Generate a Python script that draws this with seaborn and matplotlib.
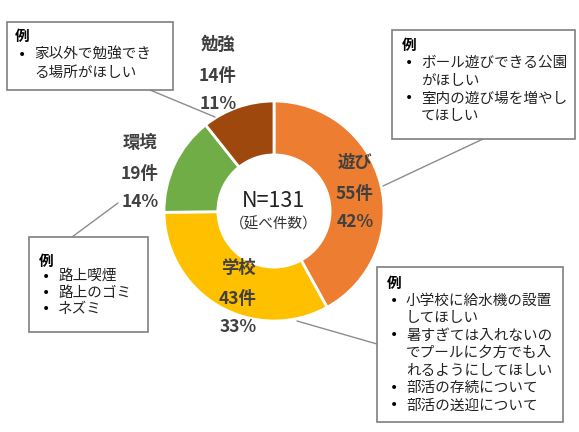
import matplotlib
matplotlib.use("Agg")
import matplotlib.pyplot as plt
import matplotlib.patches as patches
import seaborn as sns

sns.set_theme(style="white")
plt.rcParams['font.family'] = ['Noto Sans CJK JP', 'DejaVu Sans']

# data
categories = ['遊び', '学校', '環境', '勉強']
counts = [55, 43, 19, 14]
percents = ['42%', '33%', '14%', '11%']
total_label = 'N=131'
total_sub = '（延べ件数）'

examples_benkyo = ['家以外で勉強でき\nる場所がほしい']
examples_asobi = ['ボール遊びできる公園\nがほしい', '室内の遊び場を増やし\nてほしい']
examples_kankyo = ['路上喫煙', '路上のゴミ', 'ネズミ']
examples_gakko = ['小学校に給水機の設置\nしてほしい',
                  '暑すぎては入れないの\nでプールに夕方でも入\nれるようにしてほしい',
                  '部活の存続について', '部活の送迎について']

colors = sns.color_palette(['#ED7D31', '#FFC000', '#70AD47', '#9E480E'])
label_color = '#404040'

W, H = 579, 432
fig = plt.figure(figsize=(W / 100, H / 100), dpi=100)

# donut
cx, cy, r = 274, 211, 110
pa = fig.add_axes([(cx - r) / W, (H - cy - r) / H, 2 * r / W, 2 * r / H])
pa.pie(counts, colors=colors, startangle=90, counterclock=False,
       wedgeprops=dict(width=0.49, edgecolor='white', linewidth=2))
pa.set_xlim(-1, 1)
pa.set_ylim(-1, 1)
pa.axis('off')
pa.set_zorder(1)

# overlay axes in pixel coordinates, drawn on top of the donut
ov = fig.add_axes([0, 0, 1, 1])
ov.set_xlim(0, W)
ov.set_ylim(H, 0)
ov.axis('off')
ov.set_zorder(2)

ov.text(cx, 201, total_label, ha='center', va='center', fontsize=15.5, color='#222222')
ov.text(cx, 224, total_sub, ha='center', va='center', fontsize=10.5, color='#333333')

# slice labels (name, count, percent)
label_pos = [(355, 163), (238, 268), (140, 143), (218, 45)]
for (x, y), name, n, p in zip(label_pos, categories, counts, percents):
    for dy, s in zip([0, 31, 59], [name, f'{n}件', p]):
        ov.text(x, y + dy, s, ha='center', va='center', fontsize=12.5,
                fontweight='bold', color=label_color)

# connector lines
connectors = [((150, 90), (215, 117)), ((483, 139), (383, 186)),
              ((72, 237), (118, 203)), ((297, 321), (377, 344))]
for (x0, y0), (x1, y1) in connectors:
    ov.plot([x0, x1], [y0, y1], color='#8C8C8C', lw=1)


def note_box(x0, y0, x1, y1, items, tx, ty, step):
    ov.add_patch(patches.Rectangle((x0, y0), x1 - x0, y1 - y0, facecolor='white',
                                   edgecolor='#7F7F7F', lw=1.2, zorder=3))
    ov.text(tx - 4, ty, '例', ha='left', va='center', fontsize=10.5,
            fontweight='bold', color='black', zorder=4)
    y = ty + step
    for item in items:
        ov.text(tx - 1, y, '•', ha='left', va='center', fontsize=10,
                family='DejaVu Sans', color='black', zorder=4)
        for line in item.split('\n'):
            ov.text(tx + 15, y, line, ha='left', va='center', fontsize=10.5,
                    color='#222222', zorder=4)
            y += step


note_box(7, 22, 173, 90, examples_benkyo, 19, 36, 18.5)
note_box(392, 30, 575, 139, examples_asobi, 406, 45, 17.8)
note_box(29, 237, 148, 332, examples_kankyo, 43, 261, 16)
note_box(377, 267, 563, 422, examples_gakko, 391, 283, 17.5)

fig.savefig('out.png', dpi=100)
